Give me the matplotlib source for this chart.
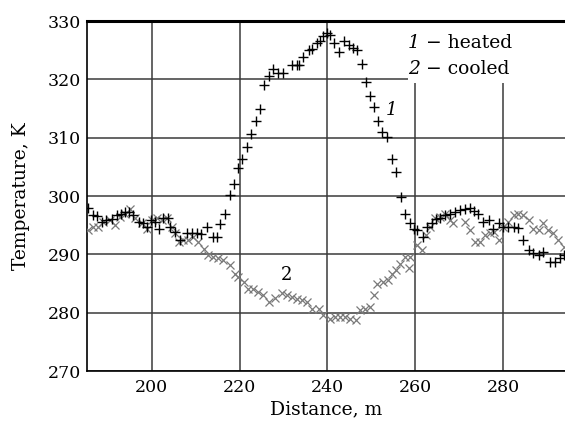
import matplotlib

matplotlib.use("Agg")

import matplotlib.pyplot as plt
from matplotlib.patches import Rectangle

plt.rcParams["font.family"] = "DejaVu Serif"

# curve 1: heated
heated_x = [
    185.6, 186.7, 187.5, 188.6, 189.7, 190.9, 192.0, 192.9, 193.9, 194.9,
    195.8, 197.0, 198.0, 198.9, 199.8, 200.8, 201.7, 202.6, 203.6, 204.2,
    205.3, 206.4, 208.0, 209.1, 210.3, 211.2, 212.5, 214.0, 214.8, 215.6,
    216.7, 217.8, 218.7, 219.6, 220.5, 221.6, 222.6, 223.7, 224.7, 225.6,
    226.7, 227.7, 228.8, 230.0, 231.9, 233.0, 233.6, 234.5, 235.7, 236.5,
    237.6, 238.3, 239.1, 239.9, 240.5, 241.5, 242.7, 243.8, 245.0, 245.9,
    246.8, 247.8, 248.8, 249.6, 250.6, 251.6, 252.5, 253.5, 254.7, 255.6,
    256.7, 257.7, 258.7, 259.8, 260.4, 261.7, 262.6, 263.8, 264.8, 265.7,
    266.8, 268.0, 269.1, 270.2, 271.4, 272.5, 273.4, 274.4, 275.5, 276.7,
    277.8, 279.0, 280.0, 281.2, 282.4, 283.5, 284.6, 285.8, 286.9, 288.1,
    289.2, 290.7, 291.9, 293.0, 293.8,
]
heated_t = [
    297.9, 296.8, 296.6, 295.6, 295.9, 296.0, 296.7, 297.0, 297.3, 297.3,
    296.7, 295.6, 295.3, 294.7, 295.9, 295.6, 294.4, 296.2, 296.2, 294.7,
    293.9, 292.4, 293.6, 293.7, 293.7, 293.5, 294.7, 292.9, 292.9, 295.2,
    297.0, 300.2, 302.0, 304.8, 306.4, 308.4, 310.7, 312.9, 315.0, 319.0,
    320.5, 321.8, 321.1, 321.1, 322.5, 322.5, 322.5, 323.8, 325.1, 325.2,
    326.2, 326.6, 327.4, 327.9, 327.6, 326.3, 324.7, 326.5, 325.9, 325.3,
    325.0, 322.6, 319.5, 317.1, 315.2, 312.8, 311.0, 310.2, 306.4, 304.2,
    299.9, 296.9, 295.4, 294.4, 294.1, 292.9, 294.7, 295.3, 296.0, 296.3,
    296.7, 297.0, 297.3, 297.6, 297.7, 297.9, 297.5, 297.0, 295.6, 295.9,
    294.4, 295.3, 294.7, 294.7, 294.7, 294.6, 292.4, 290.7, 290.2, 289.9,
    290.4, 288.7, 288.7, 289.3, 289.9,
]

# curve 2: cooled
cooled_x = [
    185.6, 186.7, 187.8, 189.0, 190.5, 191.6, 192.8, 193.9, 195.1, 196.2,
    197.7, 198.9, 200.0, 201.1, 202.3, 203.4, 204.6, 205.3, 206.1, 207.2,
    208.3, 209.5, 210.6, 211.8, 212.8, 214.0, 215.2, 216.3, 217.8, 219.0,
    219.7, 220.9, 222.0, 223.1, 224.3, 225.4, 226.6, 228.1, 229.6, 230.8,
    231.9, 233.0, 234.2, 235.3, 236.4, 238.0, 239.1, 240.5, 241.8, 242.9,
    244.0, 245.2, 246.5, 247.5, 248.6, 249.7, 250.6, 251.4, 252.6, 253.7,
    254.7, 255.6, 256.6, 257.7, 258.5, 258.8, 260.4, 261.5, 262.5, 263.4,
    264.5, 265.7, 266.8, 268.0, 268.7, 271.4, 272.5, 273.6, 274.8, 275.9,
    277.1, 278.0, 279.0, 280.0, 281.2, 282.4, 283.5, 284.6, 285.8, 286.9,
    288.1, 289.2, 290.3, 291.4, 292.6, 293.8,
]
cooled_t = [
    294.2, 294.7, 294.7, 295.6, 295.9, 295.0, 296.4, 297.0, 297.7, 296.2,
    295.3, 294.4, 295.9, 296.2, 295.9, 296.3, 294.7, 293.6, 292.1, 292.4,
    292.4, 293.0, 292.1, 291.0, 289.9, 289.6, 289.3, 289.0, 288.1, 286.7,
    286.1, 285.3, 284.1, 284.1, 283.6, 283.0, 281.9, 282.5, 283.3, 283.0,
    282.7, 282.4, 282.1, 281.9, 280.7, 280.7, 279.6, 279.0, 279.2, 279.2,
    279.2, 279.0, 278.7, 280.4, 280.7, 281.0, 283.0, 285.0, 285.3, 285.6,
    286.7, 287.3, 288.4, 289.6, 287.6, 289.6, 291.6, 290.7, 293.3, 294.7,
    296.2, 296.4, 297.0, 295.9, 295.3, 295.6, 294.1, 292.1, 292.1, 293.3,
    293.6, 293.9, 292.4, 294.7, 295.6, 296.7, 297.0, 296.7, 295.9, 294.4,
    294.1, 295.3, 294.1, 293.6, 292.4, 291.3,
]

x_ticks = [200, 220, 240, 260, 280]
y_ticks = [270, 280, 290, 300, 310, 320, 330]
legend_labels = ["heated", "cooled"]

fig = plt.figure(figsize=(5.65, 4.26), dpi=100)
ax = fig.add_axes([0.1535, 0.1291, 0.8465, 0.8216])

ax.plot(cooled_x, cooled_t, linestyle="none", marker="x", markersize=6,
        markeredgewidth=0.9, color="#7a7a7a", zorder=3)
ax.plot(heated_x, heated_t, linestyle="none", marker="+", markersize=6.5,
        markeredgewidth=1.0, color="black", zorder=4)

ax.set_xlim(185.2, 294.1)
ax.set_ylim(270, 330)
ax.set_xticks(x_ticks)
ax.set_yticks(y_ticks)
ax.set_axisbelow(True)
ax.grid(True, color="#3a3a3a", linewidth=1.1)
ax.tick_params(length=0, labelsize=12.5)
ax.tick_params(axis="x", pad=6)
ax.tick_params(axis="y", pad=4)

ax.spines["right"].set_visible(False)
ax.spines["top"].set_linewidth(2.2)
ax.spines["left"].set_linewidth(1.2)
ax.spines["bottom"].set_linewidth(1.2)

# white box behind the legend text
ax.add_patch(Rectangle((0.6715, 0.823), 0.4, 0.2, transform=ax.transAxes,
                       facecolor="white", edgecolor="none", zorder=1))
for i, (ypos, lab) in enumerate(zip([0.937, 0.863], legend_labels)):
    ax.text(0.672, ypos, str(i + 1), transform=ax.transAxes, style="italic",
            fontsize=13.5, va="center", ha="left", zorder=5)
    ax.annotate(" − " + lab, xy=(0.672, ypos), xycoords="axes fraction",
                xytext=(8.5, 0), textcoords="offset points",
                fontsize=13.5, va="center", ha="left", zorder=5)

ax.text(254.7, 314.7, "1", style="italic", fontsize=13, ha="center", va="center")
ax.text(230.8, 286.4, "2", fontsize=13, ha="center", va="center")

ax.set_xlabel("Distance, m", fontsize=13.5, labelpad=3)
ax.set_ylabel("Temperature, K", fontsize=13.5, labelpad=13)

fig.savefig("out.png", dpi=100, facecolor="white")
